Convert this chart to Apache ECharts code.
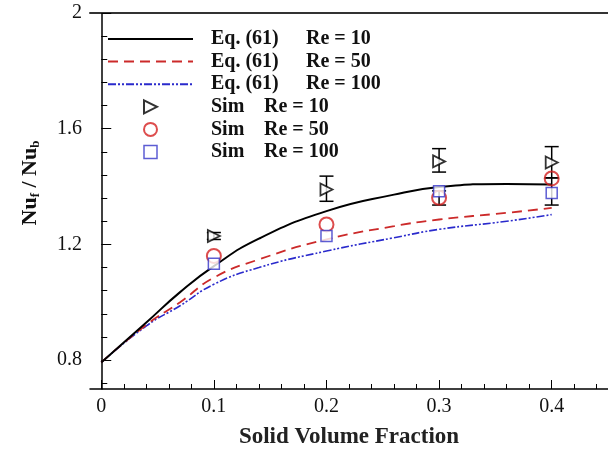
<!DOCTYPE html>
<html>
<head>
<meta charset="utf-8">
<script src="https://cdn.jsdelivr.net/npm/echarts@6/dist/echarts.min.js"></script>
<style>
  html, body { margin: 0; padding: 0; background: #fff; }
  #chart { width: 608px; height: 454px; }
</style>
</head>
<body>
<div id="chart"></div>
<script>
// Eq. (61) curves
const curveX = [0, 0.04, 0.07, 0.1, 0.14, 0.2, 0.26, 0.3, 0.36, 0.4]
const eqRe10 = [0.792, 0.93, 1.035, 1.125, 1.22, 1.315, 1.372, 1.398, 1.409, 1.407]
const eqRe50 = [0.792, 0.922, 1.0, 1.085, 1.148, 1.217, 1.263, 1.286, 1.309, 1.326]
const eqRe100 = [0.792, 0.918, 0.988, 1.062, 1.12, 1.177, 1.223, 1.252, 1.28, 1.303]

// simulation points
const simX = [0.1, 0.2, 0.3, 0.4]
const simRe10 = [1.229, 1.39, 1.487, 1.483]
const simRe50 = [1.16, 1.269, 1.361, 1.428]
const simRe100 = [1.133, 1.229, 1.384, 1.378]

// error bars
const errX = [0.1, 0.2, 0.3, 0.4, 0.3, 0.4]
const errLow = [1.217, 1.349, 1.45, 1.43, 1.336, 1.336]
const errHigh = [1.241, 1.436, 1.531, 1.538, 1.385, 1.43]

// ticks
const xMajor = [0, 0.1, 0.2, 0.3, 0.4]
const xMinor = [0.02, 0.04, 0.06, 0.08, 0.12, 0.14, 0.16, 0.18, 0.22, 0.24, 0.26, 0.28, 0.32, 0.34, 0.36, 0.38, 0.42, 0.44]
const yMajor = [0.8, 1.2, 1.6, 2]
const yMinor = [0.72, 0.88, 0.96, 1.04, 1.12, 1.28, 1.36, 1.44, 1.52, 1.68, 1.76, 1.84, 1.92]

const FONT = "'Liberation Serif', 'Times New Roman', serif"
const BLACK = '#000'
const RED = '#cc2a2a'
const BLUE = '#2a2acc'
const CIRCLE_RED = '#d42020'
const SQUARE_BLUE = '#3535c8'
const TRI_RIGHT = 'path://M0,0L10,5L0,10Z'
const SQUARE = 'path://M0,0L10,0L10,10L0,10Z'

const zip = (xs, ys) => xs.map((x, i) => [x, ys[i]])

const chart = echarts.init(document.getElementById('chart'))

const xBase = { type: 'value', min: -0.01, max: 0.45, gridIndex: 0 }
const yBase = { type: 'value', min: 0.7, max: 2, gridIndex: 0 }

// line series: keep a transparent symbol so the legend shows only the line
function eqLine(name, values, color, width, dash, z) {
  return {
    name,
    type: 'line',
    smooth: true,
    symbol: 'circle',
    showSymbol: false,
    data: zip(curveX, values),
    lineStyle: { color, width, type: dash },
    itemStyle: { color: 'rgba(0,0,0,0)', borderWidth: 0 },
    emphasis: { disabled: true },
    z
  }
}

const boldText = { fontFamily: FONT, fontSize: 20, fontWeight: 'bold', color: '#111', lineHeight: 20 }

const option = {
  animation: false,
  backgroundColor: '#fff',
  textStyle: { fontFamily: FONT },
  grid: { left: 90, top: 13, width: 524, height: 377 },
  xAxis: [
    {
      ...xBase,
      position: 'bottom',
      name: 'Solid Volume Fraction',
      nameLocation: 'middle',
      nameGap: 37,
      nameTextStyle: { fontFamily: FONT, fontSize: 23, fontWeight: 'bold', color: '#222' },
      axisLine: { lineStyle: { color: BLACK, width: 1.5 } },
      axisTick: { inside: true, length: 9, customValues: xMajor, lineStyle: { color: BLACK, width: 1 } },
      axisLabel: {
        customValues: xMajor, margin: 8, fontFamily: FONT, fontSize: 20, color: '#111',
        formatter: v => (v === 0 ? '0' : v.toFixed(1))
      },
      splitLine: { show: false }
    },
    {
      ...xBase,
      position: 'bottom',
      axisLine: { show: false },
      axisTick: { inside: true, length: 5, customValues: xMinor, lineStyle: { color: BLACK, width: 1 } },
      axisLabel: { show: false },
      splitLine: { show: false }
    },
    {
      ...xBase,
      position: 'top',
      axisLine: { lineStyle: { color: '#333', width: 2 } },
      axisTick: { show: false },
      axisLabel: { show: false },
      splitLine: { show: false }
    }
  ],
  yAxis: [
    {
      ...yBase,
      position: 'left',
      name: '{n|Nu}{s|f}{n| / Nu}{s|b}',
      nameLocation: 'middle',
      nameRotate: 90,
      nameGap: 46,
      nameTextStyle: {
        padding: [0, 0, 0, 36],
        rich: {
          n: { fontFamily: FONT, fontSize: 22, fontWeight: 'bold', color: '#111', lineHeight: 28, verticalAlign: 'middle' },
          s: { fontFamily: FONT, fontSize: 13, fontWeight: 'bold', color: '#111', lineHeight: 28, padding: [12, 0, 0, 0], verticalAlign: 'middle' }
        }
      },
      axisLine: { lineStyle: { color: BLACK, width: 1.5 } },
      axisTick: { inside: true, length: 10, customValues: yMajor, lineStyle: { color: BLACK, width: 1 } },
      axisLabel: {
        customValues: yMajor, margin: 8, fontFamily: FONT, fontSize: 20, color: '#111',
        formatter: v => (v === 2 ? '2' : v.toFixed(1))
      },
      splitLine: { show: false }
    },
    {
      ...yBase,
      position: 'left',
      axisLine: { show: false },
      axisTick: { inside: true, length: 6, customValues: yMinor, lineStyle: { color: BLACK, width: 1 } },
      axisLabel: { show: false },
      splitLine: { show: false }
    }
  ],
  legend: {
    orient: 'vertical',
    left: 107,
    top: 29,
    padding: 0,
    itemWidth: 85,
    itemHeight: 13,
    itemGap: 2.6,
    symbolKeepAspect: true,
    selectedMode: false,
    data: [
      'Eq. (61) Re = 10', 'Eq. (61) Re = 50', 'Eq. (61) Re = 100',
      { name: 'Sim Re = 10', icon: TRI_RIGHT, itemStyle: { color: '#fff', borderColor: BLACK, borderWidth: 2 } },
      { name: 'Sim Re = 50', icon: 'circle', itemStyle: { color: '#fff', borderColor: CIRCLE_RED, borderWidth: 2 } },
      { name: 'Sim Re = 100', icon: SQUARE, itemStyle: { color: '#fff', borderColor: SQUARE_BLUE, borderWidth: 1.5 } }
    ],
    formatter(name) {
      const parts = name.split(' Re = ')
      const tag = parts[0] === 'Sim' ? 'c' : 'a'
      return `{${tag}|${parts[0]}}{b|Re = ${parts[1]}}`
    },
    textStyle: {
      rich: {
        a: { ...boldText, width: 95, padding: [0, 0, 0, 13] },
        c: { ...boldText, width: 53, padding: [0, 0, 0, 13] },
        b: { ...boldText }
      }
    }
  },
  series: [
    eqLine('Eq. (61) Re = 100', eqRe100, BLUE, 1.6, [8, 2, 2, 2, 2, 2], 2),
    eqLine('Eq. (61) Re = 50', eqRe50, RED, 1.8, [10, 6], 3),
    eqLine('Eq. (61) Re = 10', eqRe10, BLACK, 2, 'solid', 4),
    {
      name: 'errors',
      type: 'custom',
      data: errX.map((x, i) => [x, errLow[i], errHigh[i]]),
      renderItem(params, api) {
        const lo = api.coord([api.value(0), api.value(1)])
        const hi = api.coord([api.value(0), api.value(2)])
        const w = 7
        const style = { stroke: BLACK, lineWidth: 1.5 }
        return {
          type: 'group',
          children: [
            { type: 'line', shape: { x1: lo[0], y1: lo[1], x2: hi[0], y2: hi[1] }, style },
            { type: 'line', shape: { x1: lo[0] - w, y1: lo[1], x2: lo[0] + w, y2: lo[1] }, style },
            { type: 'line', shape: { x1: hi[0] - w, y1: hi[1], x2: hi[0] + w, y2: hi[1] }, style }
          ]
        }
      },
      z: 5
    },
    {
      name: 'Sim Re = 10',
      type: 'scatter',
      symbol: TRI_RIGHT,
      symbolSize: 12,
      symbolKeepAspect: true,
      data: zip(simX, simRe10),
      itemStyle: { color: '#fff', borderColor: BLACK, borderWidth: 1.8 },
      z: 6
    },
    {
      name: 'Sim Re = 50',
      type: 'scatter',
      symbol: 'circle',
      symbolSize: 14,
      symbolKeepAspect: true,
      data: zip(simX, simRe50),
      itemStyle: { color: 'rgba(255,255,255,0)', borderColor: CIRCLE_RED, borderWidth: 2 },
      z: 7
    },
    {
      name: 'Sim Re = 100',
      type: 'scatter',
      symbol: SQUARE,
      symbolSize: 11,
      symbolKeepAspect: true,
      data: zip(simX, simRe100),
      itemStyle: { color: '#fff', borderColor: SQUARE_BLUE, borderWidth: 1.5 },
      z: 8
    }
  ]
}

chart.setOption(option)
</script>
</body>
</html>
